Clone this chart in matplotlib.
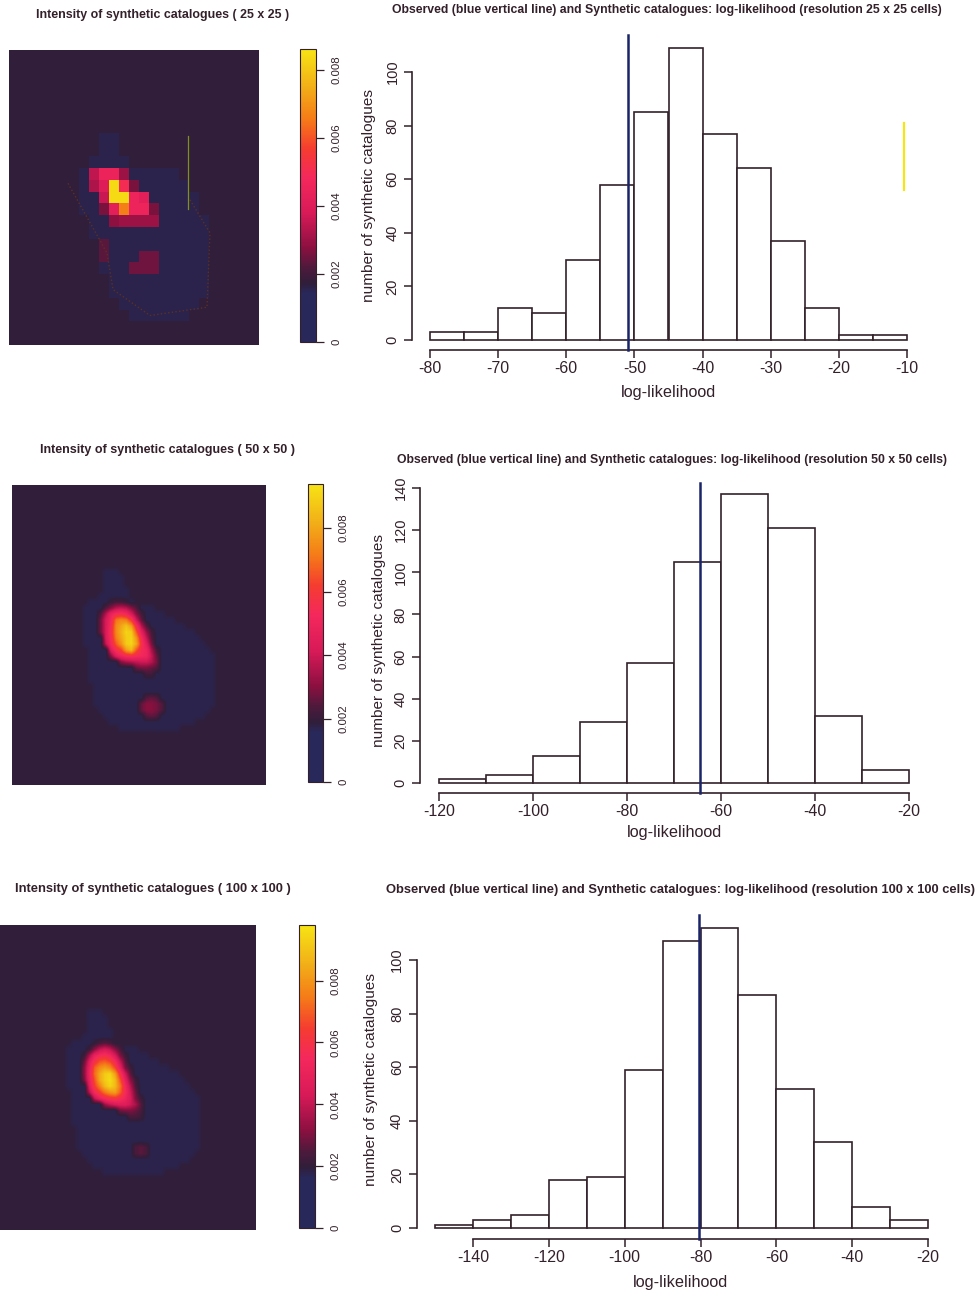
"""Intensity maps and log-likelihood histograms of synthetic catalogues"""

import numpy as np
import matplotlib
matplotlib.use("Agg")
import matplotlib.pyplot as plt
from matplotlib.colors import LinearSegmentedColormap, Normalize
from matplotlib.cm import ScalarMappable

plt.rcParams['font.family'] = ['Liberation Sans', 'DejaVu Sans']
plt.rcParams['axes.unicode_minus'] = False

# histograms
COUNTS_25 = [3, 3, 12, 10, 30, 58, 85, 109, 77, 64, 37, 12, 2, 2]
EDGES_25 = [-80, -75, -70, -65, -60, -55, -50, -45, -40, -35, -30, -25, -20, -15, -10]
OBSERVED_25 = -51
XTICKS_25 = [-80, -70, -60, -50, -40, -30, -20, -10]
YTICKS_25 = [0, 20, 40, 60, 80, 100]

COUNTS_50 = [2, 4, 13, 29, 57, 105, 137, 121, 32, 6]
EDGES_50 = [-120, -110, -100, -90, -80, -70, -60, -50, -40, -30, -20]
OBSERVED_50 = -64.5
XTICKS_50 = [-120, -100, -80, -60, -40, -20]
YTICKS_50 = [0, 20, 40, 60, 80, 100, 120, 140]

COUNTS_100 = [1, 3, 5, 18, 19, 59, 107, 112, 87, 52, 32, 8, 3]
EDGES_100 = [-150, -140, -130, -120, -110, -100, -90, -80, -70, -60, -50, -40, -30, -20]
OBSERVED_100 = -80.5
XTICKS_100 = [-140, -120, -100, -80, -60, -40, -20]
YTICKS_100 = [0, 20, 40, 60, 80, 100]

# intensity maps, in units of 1e-4: (row, first column, values)
HOT_25 = [
    (10, 8, [35, 45, 45, 30]),
    (11, 8, [32, 40, 84, 50, 26]),
    (12, 9, [36, 84, 84, 46, 42]),
    (13, 9, [26, 42, 66, 46, 46, 26]),
    (14, 10, [28, 30, 30, 30, 30]),
    (16, 9, [23]),
    (17, 9, [23]),
    (17, 13, [25, 25]),
    (18, 12, [25, 25, 25]),
]
DARK_25 = [(7, 9, 11), (8, 9, 11), (9, 8, 12), (10, 7, 17), (11, 7, 18), (12, 7, 19),
           (13, 7, 19), (14, 8, 20), (15, 8, 20), (16, 9, 20), (17, 9, 20), (18, 9, 20),
           (19, 10, 20), (20, 10, 20), (21, 11, 19), (22, 12, 18)]
COAST_COL_25 = [5.4, 9.3, 9.9, 13.6, 19.3, 19.6, 17.6]
COAST_ROW_25 = [10.8, 16.7, 19.8, 22.0, 21.3, 15.0, 12.2]

HOT_50 = [
    (19, 19, [20, 22, 22, 20]),
    (20, 18, [24, 30, 36, 38, 36, 30, 24]),
    (21, 17, [24, 36, 48, 54, 56, 52, 42, 30, 22]),
    (22, 17, [28, 42, 52, 70, 74, 72, 60, 40, 26]),
    (23, 17, [28, 42, 54, 74, 80, 86, 78, 56, 36, 24]),
    (24, 17, [28, 42, 56, 74, 82, 90, 88, 66, 46, 32, 22]),
    (25, 18, [42, 54, 72, 80, 88, 90, 76, 54, 38, 24]),
    (26, 18, [38, 52, 66, 76, 88, 90, 80, 58, 44, 28]),
    (27, 19, [44, 56, 62, 78, 84, 66, 54, 50, 34, 22]),
    (28, 19, [30, 44, 50, 54, 56, 54, 52, 50, 38, 26]),
    (29, 21, [30, 34, 36, 38, 40, 40, 36, 28]),
    (30, 24, [26, 28, 28, 26, 24]),
    (31, 26, [22, 22]),
    (35, 26, [24, 26, 24]),
    (36, 25, [26, 30, 30, 28, 24]),
    (37, 25, [26, 30, 30, 28, 24]),
    (38, 26, [24, 26, 24]),
]
DARK_50 = [(14, 18, 21), (15, 18, 22), (16, 18, 22), (17, 18, 23), (18, 17, 23), (19, 15, 24),
           (20, 14, 28), (21, 14, 30), (22, 14, 32), (23, 14, 34), (24, 14, 36), (25, 14, 37),
           (26, 14, 38), (27, 15, 39), (28, 15, 40), (29, 15, 40), (30, 15, 40), (31, 15, 40),
           (32, 15, 40), (33, 16, 40), (34, 16, 40), (35, 16, 40), (36, 16, 40), (37, 17, 39),
           (38, 18, 38), (39, 19, 36), (40, 21, 33)]

HOT_100 = [
    (19, 18, [20, 24, 26, 24, 20]),
    (20, 17, [22, 32, 40, 44, 40, 32, 24]),
    (21, 16, [22, 36, 50, 56, 58, 54, 44, 30, 22]),
    (22, 16, [28, 46, 60, 68, 70, 66, 56, 40, 26]),
    (23, 16, [32, 50, 70, 78, 82, 78, 66, 48, 30, 22]),
    (24, 16, [32, 52, 72, 84, 92, 94, 82, 60, 42, 26]),
    (25, 16, [30, 50, 68, 84, 92, 96, 88, 68, 48, 32, 22]),
    (26, 17, [46, 64, 76, 88, 94, 88, 74, 54, 38, 24]),
    (27, 17, [38, 56, 64, 74, 80, 82, 70, 56, 42, 28]),
    (28, 18, [40, 50, 56, 60, 62, 58, 52, 44, 30, 22]),
    (29, 20, [34, 40, 44, 46, 46, 42, 36, 26]),
    (30, 23, [28, 30, 30, 28, 24]),
    (31, 25, [24, 24, 22]),
    (36, 26, [24, 26, 24]),
    (37, 26, [24, 26, 24]),
]
DARK_100 = [(r, a - 1, b - 1) for r, a, b in DARK_50]

INK = '#33202a'
BLUE = '#1a2468'


def px_axes(fig, x0, x1, y0, y1):
    """axes from picture pixels (y counted from the top)"""
    W, H = fig.get_size_inches() * fig.dpi
    return fig.add_axes([x0 / W, 1 - y1 / H, (x1 - x0) / W, (y1 - y0) / H])


def fig_text(fig, x, y, s, **kw):
    W, H = fig.get_size_inches() * fig.dpi
    fig.text(x / W, 1 - y / H, s, ha='center', va='center', color=INK, **kw)


def build_grid(n, background, dark_level, dark, hot):
    grid = np.full((n, n), float(background))
    for row, start, stop in dark:
        grid[row, start:stop] = dark_level
    for row, start, values in hot:
        grid[row, start:start + len(values)] = values
    return grid * 1e-4


def draw_map(fig, grid, box, cbox, vmax, smooth=False):
    cmap = LinearSegmentedColormap.from_list('intensity', [
        (0.0, '#28285a'), (0.165, '#28285a'), (0.20, '#301e3a'), (0.25, '#4c1a3c'),
        (0.32, '#8a1040'), (0.44, '#d81a58'), (0.56, '#f4285c'), (0.66, '#f53c30'),
        (0.76, '#f57a18'), (0.87, '#f2ae18'), (1.0, '#f6e414')])
    norm = Normalize(0, vmax)

    ax = px_axes(fig, *box)
    ax.imshow(grid, cmap=cmap, norm=norm, aspect='auto',
              interpolation='bilinear' if smooth else 'nearest')
    ax.set_axis_off()

    cax = px_axes(fig, *cbox)
    cbar = fig.colorbar(ScalarMappable(norm=norm, cmap=cmap), cax=cax)
    cbar.outline.set_edgecolor(INK)
    cbar.outline.set_linewidth(0.8)
    cbar.set_ticks([0, 0.002, 0.004, 0.006, 0.008], labels=['0', '0.002', '0.004', '0.006', '0.008'])
    cax.tick_params(length=6, width=0.9, color=INK, labelsize=8.2, pad=5,
                    labelcolor=INK, labelrotation=90)
    for label in cax.get_yticklabels():
        label.set_va('center')
    return ax


def draw_hist(fig, counts, edges, observed, xticks, yticks, x_px, y_px, spine_x, spine_y, line_top):
    """x_px / y_px: pixel positions of the first and last ticks"""
    x_a, x_b = x_px
    y_a, y_b = y_px
    left_px = x_a - (xticks[0] - edges[0]) * (x_b - x_a) / (xticks[-1] - xticks[0])
    ax = px_axes(fig, left_px, x_b, y_b, y_a)
    ax.patch.set_alpha(0)
    ax.set_xlim(edges[0], xticks[-1])
    ax.set_ylim(yticks[0], yticks[-1])

    ax.bar(edges[:-1], counts, width=np.diff(edges), align='edge', facecolor='white',
           edgecolor=INK, linewidth=1.2, clip_on=False)
    px_per_y = (y_a - y_b) / (yticks[-1] - yticks[0])
    ax.plot([observed, observed],
            [(y_a - spine_y) / px_per_y, (y_a - line_top) / px_per_y],
            color=BLUE, linewidth=1.8, clip_on=False, zorder=5)

    for side in ['top', 'right']:
        ax.spines[side].set_visible(False)
    ax.spines['left'].set_position(('outward', (left_px - spine_x) * 0.72))
    ax.spines['bottom'].set_position(('outward', (spine_y - y_a) * 0.72))
    ax.spines['left'].set_bounds(yticks[0], yticks[-1])
    ax.spines['bottom'].set_bounds(xticks[0], xticks[-1])
    for side in ['left', 'bottom']:
        ax.spines[side].set_color(INK)
        ax.spines[side].set_linewidth(1.2)

    ax.set_xticks(xticks)
    ax.set_yticks(yticks)
    ax.tick_params(axis='x', length=6, width=1.1, color=INK, labelcolor=INK, labelsize=11.5, pad=2)
    ax.tick_params(axis='y', length=6, width=1.1, color=INK, labelcolor=INK, labelsize=10.5, pad=3)
    for label in ax.get_yticklabels():
        label.set_rotation(90)
        label.set_va('center')
    return ax


def main():
    fig = plt.figure(figsize=(9.78, 12.93), dpi=100, facecolor='white')

    # first row
    ax = draw_map(fig, build_grid(25, 17.2, 15.6, DARK_25, HOT_25), (9, 259, 50, 345), (300, 316, 49, 342),
                  0.00862)
    ax.plot(COAST_COL_25, COAST_ROW_25, color='#5a3025', linewidth=1.0, linestyle=':')
    ax.plot([17.4, 17.4], [6.8, 13.0], color='#7f9020', linewidth=0.9)
    ax.set_xlim(-0.5, 24.5)
    ax.set_ylim(24.5, -0.5)
    hist = draw_hist(fig, COUNTS_25, EDGES_25, OBSERVED_25, XTICKS_25, YTICKS_25,
                     (430, 907), (340, 72), 412, 350, 35)
    hist.plot([-10.4, -10.4], [56, 81], color='#f6e414', linewidth=1.6, clip_on=False)
    fig_text(fig, 163, 15, 'Intensity of synthetic catalogues ( 25 x 25 )', fontsize=8.9, fontweight='bold')
    fig_text(fig, 667, 10, 'Observed (blue vertical line) and Synthetic catalogues: log-likelihood '
                           '(resolution 25 x 25 cells)', fontsize=8.85, fontweight='bold')
    fig_text(fig, 668, 393, 'log-likelihood', fontsize=11.7)
    fig_text(fig, 369, 195, 'number of synthetic catalogues', fontsize=11.1, rotation=90)

    # second row
    draw_map(fig, build_grid(50, 18.8, 17, DARK_50, HOT_50), (12, 266, 485, 785), (308, 323, 484, 782),
             0.00939, smooth=True)
    draw_hist(fig, COUNTS_50, EDGES_50, OBSERVED_50, XTICKS_50, YTICKS_50,
              (439, 909), (783, 488), 420, 793, 483)
    fig_text(fig, 167, 450, 'Intensity of synthetic catalogues ( 50 x 50 )', fontsize=9, fontweight='bold')
    fig_text(fig, 672, 460, 'Observed (blue vertical line) and Synthetic catalogues: log-likelihood '
                            '(resolution 50 x 50 cells)', fontsize=8.8, fontweight='bold')
    fig_text(fig, 674, 833, 'log-likelihood', fontsize=11.7)
    fig_text(fig, 379, 640, 'number of synthetic catalogues', fontsize=11.1, rotation=90)

    # third row
    draw_map(fig, build_grid(50, 19.6, 17.7, DARK_100, HOT_100), (0, 255, 925, 1230), (299, 315, 925, 1228),
             0.0098, smooth=True)
    draw_hist(fig, COUNTS_100, EDGES_100, OBSERVED_100, XTICKS_100, YTICKS_100,
              (473, 928), (1228, 960), 416.5, 1239, 915)
    fig_text(fig, 153, 889, 'Intensity of synthetic catalogues ( 100 x 100 )', fontsize=9.25, fontweight='bold')
    fig_text(fig, 680, 890, 'Observed (blue vertical line) and Synthetic catalogues: log-likelihood '
                            '(resolution 100 x 100 cells)', fontsize=9.25, fontweight='bold')
    fig_text(fig, 681, 1282, 'log-likelihood', fontsize=11.7)
    fig_text(fig, 371, 1080, 'number of synthetic catalogues', fontsize=11.1, rotation=90)

    fig.savefig('out.png', dpi=100)


if __name__ == "__main__":
    main()
